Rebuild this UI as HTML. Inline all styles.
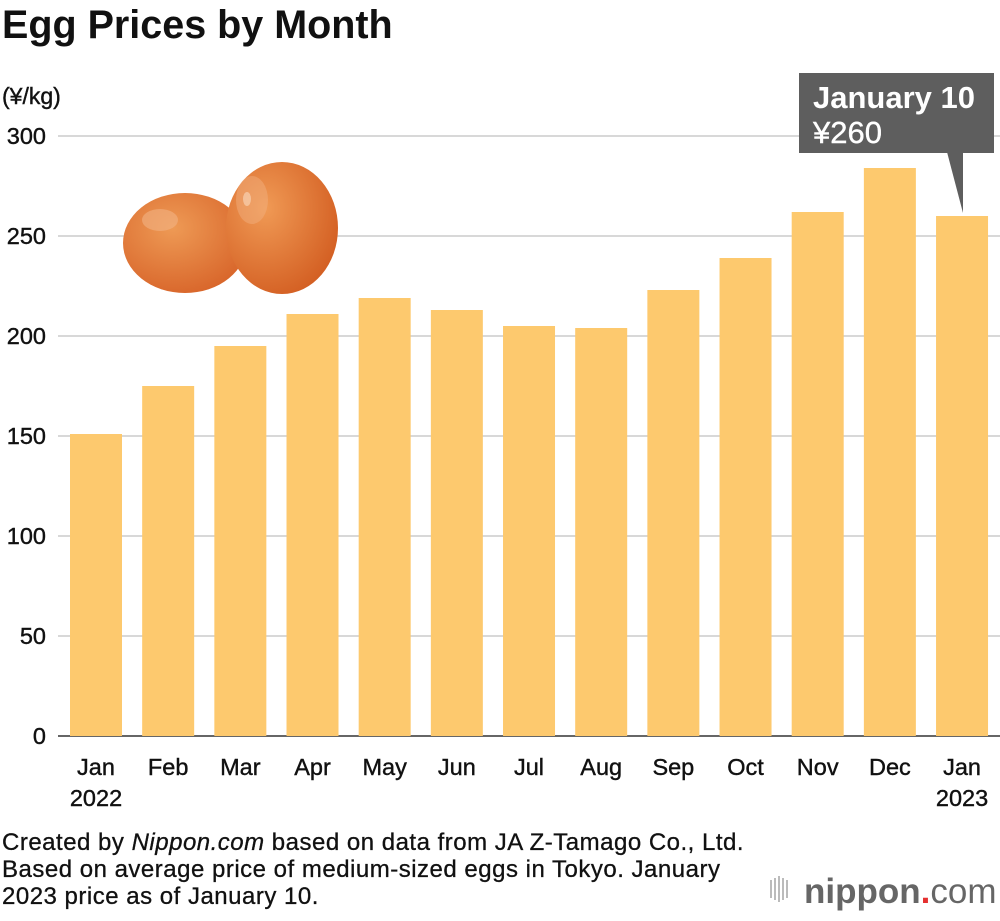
<!DOCTYPE html>
<html><head><meta charset="utf-8"><style>
body{margin:0;background:#fff;width:1000px;height:916px;overflow:hidden;font-family:"Liberation Sans",sans-serif}
svg text{font-family:"Liberation Sans",sans-serif}
</style></head><body>
<svg id="chart" width="1000" height="916" viewBox="0 0 1000 916">
<defs>
<radialGradient id="eg1" cx="0.4" cy="0.35" r="0.7"><stop offset="0" stop-color="#ee9a55"/><stop offset="1" stop-color="#d8652a"/></radialGradient>
<radialGradient id="eg2" cx="0.35" cy="0.35" r="0.75"><stop offset="0" stop-color="#f09a55"/><stop offset="1" stop-color="#d25c20"/></radialGradient>
</defs>
<text x="2" y="38" font-size="39.5" font-weight="bold" fill="#111">Egg Prices by Month</text>
<text x="2" y="104" font-size="23" fill="#111" stroke="#111" stroke-width="0.4">(¥/kg)</text>
<g id="grid"></g>
<g id="eggs">
<ellipse cx="185" cy="243" rx="62" ry="50" fill="url(#eg1)"/>
<ellipse cx="160" cy="220" rx="18" ry="11" fill="#f2b283" opacity="0.6"/>
<ellipse cx="282" cy="228" rx="56" ry="66" fill="url(#eg2)"/>
<ellipse cx="252" cy="200" rx="16" ry="24" fill="#f2b283" opacity="0.45"/>
<ellipse cx="247" cy="199" rx="4" ry="7" fill="#f8d0b0" opacity="0.7"/>
</g>
<g id="bars"></g>
<g id="xlabels"></g>
<g>
<rect x="799" y="73" width="195" height="80" fill="#5e5e5e"/>
<polygon points="947,152 963,152 963,213" fill="#5e5e5e"/>
<text x="813" y="108" font-size="31" font-weight="bold" fill="#fff">January 10</text>
<text x="813" y="143" font-size="31" fill="#fff" stroke="#fff" stroke-width="0.4">¥260</text>
</g>
<g font-size="24" letter-spacing="0.5" fill="#111" stroke="#111" stroke-width="0.3">
<text x="2" y="850">Created by <tspan font-style="italic">Nippon.com</tspan> based on data from JA Z-Tamago Co., Ltd.</text>
<text x="2" y="877">Based on average price of medium-sized eggs in Tokyo. January</text>
<text x="2" y="904">2023 price as of January 10.</text>
</g>
<g>
<g fill="#bbb"><rect x="770" y="880" width="2" height="18"/><rect x="774" y="878" width="2" height="22"/><rect x="778" y="876" width="2" height="26"/><rect x="782" y="878" width="2" height="22"/><rect x="786" y="880" width="2" height="18"/></g>
<text x="804" y="903" font-size="35" font-weight="bold" fill="#666">nippon<tspan fill="#e53030">.</tspan><tspan font-weight="normal">com</tspan></text>
</g>
</svg>
<script>
const categories=["Jan","Feb","Mar","Apr","May","Jun","Jul","Aug","Sep","Oct","Nov","Dec","Jan"];
const years=["2022","","","","","","","","","","","","2023"];
const values=[151,175,195,211,219,213,205,204,223,239,262,284,260];
const ticks=[0,50,100,150,200,250,300];
const NS="http://www.w3.org/2000/svg";
const y0=736,k=2,x0=96,step=72.17,bw=52;
const yS=v=>y0-v*k, xS=i=>x0+i*step;
function mk(t,a,p){const e=document.createElementNS(NS,t);for(const n in a)e.setAttribute(n,a[n]);p.appendChild(e);return e;}
const grid=document.getElementById('grid');
ticks.forEach(t=>{
 const l=mk('line',{x1:58,x2:1000,y1:yS(t),y2:yS(t),stroke:t===0?'#333':'#ccc','stroke-width':1.5},grid);
 
 
 const tx=mk('text',{x:46,y:yS(t)+8,'text-anchor':'end','font-size':23.5,fill:'#111',stroke:'#111','stroke-width':0.4},grid);
 tx.textContent=t;
 
 
});
const bars=document.getElementById('bars'),xl=document.getElementById('xlabels');
values.forEach((v,i)=>{
 const r=mk('rect',{x:xS(i)-bw/2,y:yS(v),width:bw,height:v*k,fill:'#fdc96e'},bars);
 
 
 const t=mk('text',{x:xS(i),y:775,'text-anchor':'middle','font-size':23.5,fill:'#111',stroke:'#111','stroke-width':0.4},xl);
 t.textContent=categories[i];
 
 
 if(years[i]){const t2=mk('text',{x:xS(i),y:806,'text-anchor':'middle','font-size':23.5,fill:'#111',stroke:'#111','stroke-width':0.4},xl);
 t2.textContent=years[i];
 
 }
});
</script>
</body></html>
